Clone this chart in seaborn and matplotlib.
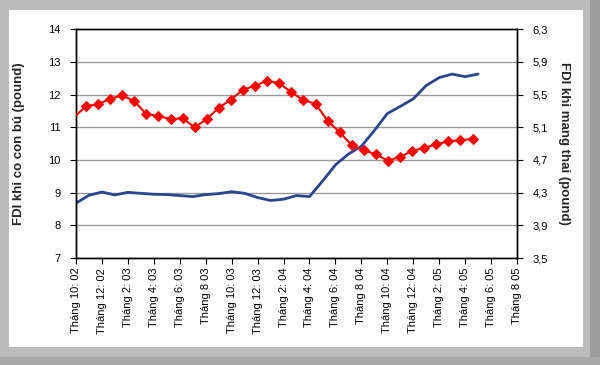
import pandas as pd
import matplotlib.pyplot as plt
import seaborn as sns
from matplotlib.patches import Rectangle

# Tick labels on the month axis (every 2 months, Oct 2002 .. Aug 2005)
month_labels = ["Tháng 10: 02", "Tháng 12: 02", "Tháng 2: 03", "Tháng 4: 03",
                "Tháng 6: 03", "Tháng 8 03", "Tháng 10: 03", "Tháng 12: 03",
                "Tháng 2: 04", "Tháng 4: 04", "Tháng 6: 04", "Tháng 8 04",
                "Tháng 10: 04", "Tháng 12: 04", "Tháng 2: 05", "Tháng 4: 05",
                "Tháng 6: 05", "Tháng 8 05"]

# FDI khi co con bú (left axis), monthly
fdi_bu = [8.68, 8.92, 9.02, 8.93, 9.01, 8.98, 8.95, 8.94, 8.91, 8.88,
          8.94, 8.97, 9.03, 8.98, 8.85, 8.76, 8.80, 8.91, 8.88, 9.35,
          9.85, 10.18, 10.42, 10.90, 11.42, 11.64, 11.87, 12.28, 12.52, 12.63,
          12.55, 12.63]

# FDI khi mang thai (right axis); the first point sits left of the plot area
fdi_thai = [5.22, 5.36, 5.38, 5.45, 5.49, 5.42, 5.26, 5.24, 5.20, 5.21,
            5.10, 5.20, 5.34, 5.44, 5.56, 5.61, 5.67, 5.64, 5.53, 5.43,
            5.39, 5.18, 5.04, 4.88, 4.82, 4.77, 4.69, 4.74, 4.81, 4.85,
            4.89, 4.93, 4.94, 4.96]

left_ticks = [7, 8, 9, 10, 11, 12, 13, 14]
right_ticks = [3.5, 3.9, 4.3, 4.7, 5.1, 5.5, 5.9, 6.3]
right_labels = ["3,5", "3,9", "4,3", "4,7", "5,1", "5,5", "5,9", "6,3"]

sns.set_theme(style="white")
plt.rcParams["font.family"] = ["Liberation Sans", "DejaVu Sans"]

fig = plt.figure(figsize=(6, 3.65), dpi=100)
fig.patch.set_facecolor("#bcbcbc")
# grey frame with a darker shadow on the right/bottom, white card inside
fig.patches.append(Rectangle((590 / 600, 0), 10 / 600, 1, transform=fig.transFigure,
                             facecolor="#9c9c9c", edgecolor="none", zorder=-11))
fig.patches.append(Rectangle((0, 0), 1, 8 / 365, transform=fig.transFigure,
                             facecolor="#a8a8a8", edgecolor="none", zorder=-11))
fig.patches.append(Rectangle((9 / 600, 18 / 365), 574 / 600, 337 / 365,
                             transform=fig.transFigure, facecolor="white",
                             edgecolor="none", zorder=-10))

ax = fig.add_axes([76 / 600, 107 / 365, 441 / 600, 228.7 / 365])
ax.patch.set_alpha(0)

df_bu = pd.DataFrame({"month": range(len(fdi_bu)), "fdi": fdi_bu})
sns.lineplot(data=df_bu, x="month", y="fdi", ax=ax, color="#2b4690", lw=2.0)

ax.set_xlim(0, 34)
ax.set_ylim(7, 14)
ax.set_yticks(left_ticks)
ax.set_yticklabels([str(t) for t in left_ticks])
ax.set_xticks(range(0, 35, 2))
ax.set_xticklabels(month_labels, rotation=90)
ax.yaxis.grid(True, color="#9a9a9a", lw=1)
ax.xaxis.grid(False)
ax.tick_params(axis="y", left=True, direction="out", length=4, width=0.8,
               pad=7, labelsize=8, colors="black")
ax.tick_params(axis="x", bottom=True, direction="out", length=4, width=0.8,
               pad=3, labelsize=8, colors="black")
ax.set_xlabel("")
ax.set_ylabel("FDI khi co con bú (pound)", fontsize=9.5, fontweight="bold")
ax.yaxis.set_label_coords(-0.115, 0.5)
for s in ax.spines.values():
    s.set_color("black")
    s.set_linewidth(1)

# secondary y axis, with its own category axis for the red series
ax2 = ax.twinx()
ax3 = ax2.twiny()
df_thai = pd.DataFrame({"idx": range(len(fdi_thai)), "fdi": fdi_thai})
sns.lineplot(data=df_thai, x="idx", y="fdi", ax=ax3, color="#ff0000", lw=1.5,
             marker="D", markersize=5.5, markeredgecolor="#ff0000",
             markevery=list(range(1, len(fdi_thai))))
ax3.set_xlim(0.174, 36.68)
ax3.xaxis.set_visible(False)
for s in ax3.spines.values():
    s.set_visible(False)

ax2.set_ylim(3.5, 6.3)
ax2.set_yticks(right_ticks)
ax2.set_yticklabels(right_labels)
ax2.tick_params(axis="y", right=True, direction="out", length=4, width=0.8,
                pad=7, labelsize=8, colors="black")
ax2.set_ylabel("FDI khi mang thai (pound)", fontsize=9.5, fontweight="bold",
               rotation=270)
ax2.yaxis.set_label_coords(1.12, 0.5)
ax2.grid(False)
for s in ax2.spines.values():
    s.set_color("black")
    s.set_linewidth(1)

fig.savefig("out.png", dpi=100)
